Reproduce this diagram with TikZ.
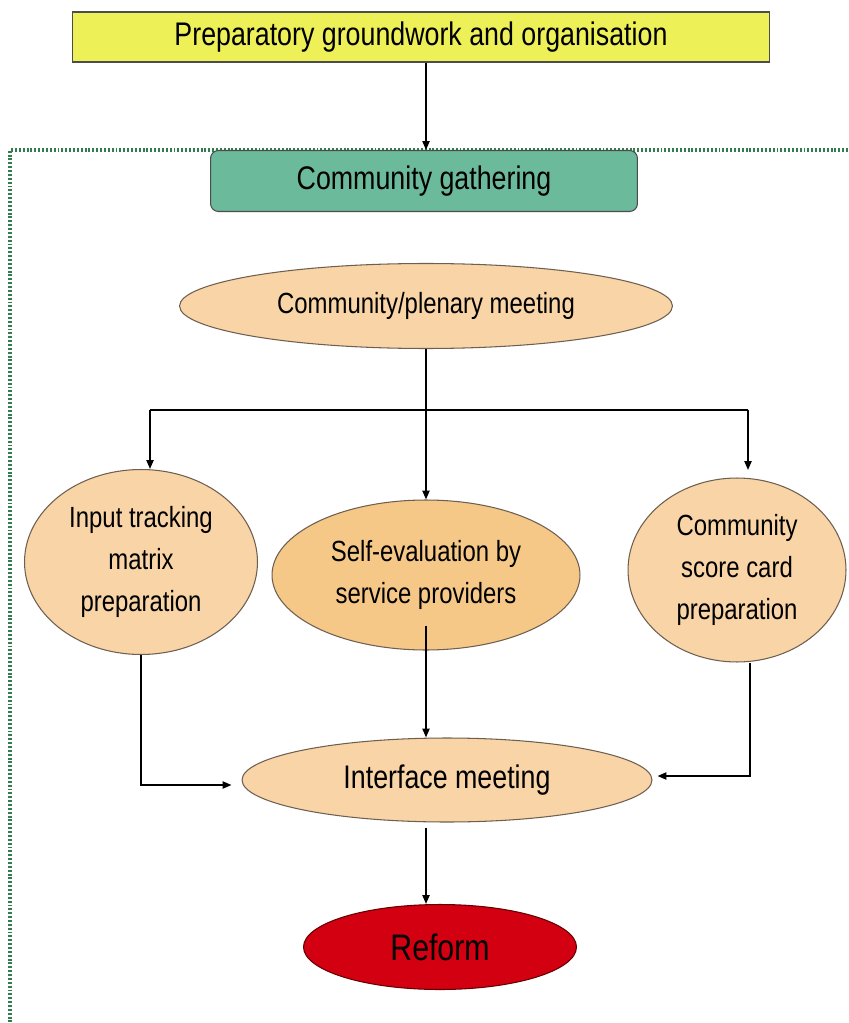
\documentclass[tikz,border=0pt]{standalone}
\usepackage{fontspec}
\setmainfont{Liberation Sans}[FakeStretch=0.82]
\usetikzlibrary{shapes.geometric}
\usetikzlibrary{arrows.meta}
\usepackage{xcolor}
\definecolor{prepyellow}{RGB}{238,240,88}
\definecolor{gathergreen}{RGB}{108,186,156}
\definecolor{peach}{RGB}{248,212,166}
\definecolor{peachdark}{RGB}{245,200,135}
\definecolor{reformred}{RGB}{210,0,16}
\definecolor{framegreen}{RGB}{50,125,80}
\definecolor{edgebrown}{RGB}{110,95,80}

\newcommand{\largelabel}{\fontsize{18.6pt}{21pt}\selectfont}
\newcommand{\midlabel}{\fontsize{16.6pt}{23.8pt}\selectfont}
\newcommand{\reformlabel}{\fontsize{21pt}{24pt}\selectfont}

\begin{document}
\begin{tikzpicture}[x=0.02cm, y=-0.02cm,
    box/.style={draw=black!70, line width=0.6pt, inner sep=0pt},
    bubble/.style={ellipse, draw=edgebrown, line width=0.6pt, fill=peach,
        inner sep=0pt, align=center, font=\midlabel},
    arr/.style={-{Triangle[length=5pt,width=4pt]}, line width=0.95pt},
    frame/.style={dash pattern=on 1.1pt off 1.1pt, line width=1.9pt, color=framegreen}]

    \useasboundingbox (0,0) rectangle (848,1023);

    \node[box, fill=prepyellow, minimum width=13.96cm, minimum height=1cm,
        font=\largelabel] (prep) at (421,37) {Preparatory groundwork and organisation};

    % dotted frame round the community part
    \draw[frame] (848,150) -- (10,150) -- (10,1023);

    \node[box, rounded corners=4.5pt, fill=gathergreen, minimum width=8.54cm,
        minimum height=1.22cm, font=\largelabel] (gather) at (424,181) {Community gathering};
    \node[bubble, minimum width=9.86cm, minimum height=1.7cm] (plenary) at (426,306) {Community/plenary meeting};
    \node[bubble, minimum width=4.66cm, minimum height=3.7cm] (input) at (141,562) {Input tracking\\matrix\\preparation};
    \node[bubble, fill=peachdark, minimum width=6.16cm, minimum height=3cm] (self) at (426,575) {Self-evaluation by\\service providers};
    \node[bubble, minimum width=4.36cm, minimum height=3.68cm] (score) at (737,570) {Community\\score card\\preparation};
    \node[bubble, minimum width=8.2cm, minimum height=1.68cm, font=\largelabel] (iface) at (447,780) {Interface meeting};
    \node[bubble, draw=red!40!black, fill=reformred, minimum width=5.46cm, minimum height=1.7cm,
        font=\reformlabel] (reform) at (440,947) {Reform};

    \coordinate (spine) at (426,0);
    \coordinate (forkL) at (150,410);
    \coordinate (forkR) at (748,410);

    \draw[arr] (prep.south -| spine) -- (gather.north -| spine);
    \draw[arr] (plenary.south) -- (self.north);
    \draw[line width=0.95pt] (forkL) -- (forkR);
    \draw[arr] (forkL) -- (forkL |- input.north);
    \draw[arr] (forkR) -- ([yshift=0.15cm]forkR |- score.north);
    \draw[arr] ([yshift=0.5cm]self.south) -- (self.south |- iface.north);
    \draw[arr] (input.south) |- ([shift={(-10,5)}]iface.west);
    \draw[arr] ([xshift=0.26cm]score.south) |- ([shift={(5,-4)}]iface.east);
    \draw[arr, shorten <=3pt] (iface.south -| spine) -- (reform.north -| spine);

\end{tikzpicture}
\end{document}
